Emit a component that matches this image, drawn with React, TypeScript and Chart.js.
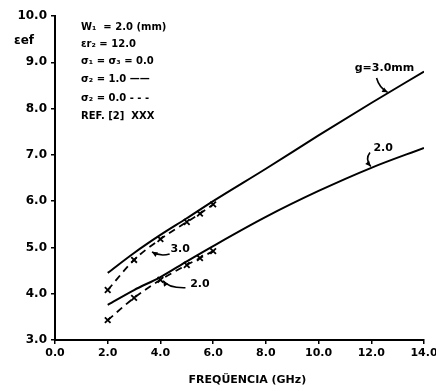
import { useEffect, useRef } from "react";
import { Chart, registerables } from "chart.js";

Chart.register(...registerables);

// Frequency (GHz) samples
const freqSolid = [2, 3, 4, 5, 6, 8, 10, 12, 14];
const freqRef = [2, 3, 4, 5, 5.5, 6];

// σ2 = 1.0 (solid)
const epsG3Sigma1 = [4.45, 4.88, 5.27, 5.63, 6.0, 6.7, 7.42, 8.12, 8.8];
const epsG2Sigma1 = [3.76, 4.08, 4.36, 4.7, 5.03, 5.66, 6.22, 6.72, 7.15];

// σ2 = 0.0 (dashed) with REF. [2] points (x)
const epsG3Sigma0 = [4.08, 4.73, 5.18, 5.55, 5.73, 5.93];
const epsG2Sigma0 = [3.43, 3.91, 4.3, 4.62, 4.77, 4.92];

const xTickLabels = ["0.0", "2.0", "4.0", "6.0", "8.0", "10.0", "12.0", "14.0"];
const yTickLabels = ["3.0", "4.0", "5.0", "6.0", "7.0", "8.0", "9.0", "10.0"];

const xTitle = "FREQÜENCIA (GHz)";
const yTitle = "\u03B5ef";

const infoLines = [
  "W\u2081  = 2.0 (mm)",
  "\u03B5r\u2082 = 12.0",
  "\u03C3\u2081 = \u03C3\u2083 = 0.0",
  "\u03C3\u2082 = 1.0 \u2014\u2014",
  "\u03C3\u2082 = 0.0 - - -",
  "REF. [2]  XXX",
];

const FONT = "'DejaVu Sans', sans-serif";

function drawArrow(
  ctx: CanvasRenderingContext2D,
  tx: number,
  ty: number,
  cx: number,
  cy: number,
  hx: number,
  hy: number
) {
  ctx.beginPath();
  ctx.moveTo(tx, ty);
  ctx.quadraticCurveTo(cx, cy, hx, hy);
  ctx.stroke();
  const ang = Math.atan2(hy - cy, hx - cx);
  const len = 6;
  ctx.beginPath();
  ctx.moveTo(hx, hy);
  ctx.lineTo(hx - len * Math.cos(ang - 0.45), hy - len * Math.sin(ang - 0.45));
  ctx.lineTo(hx - len * Math.cos(ang + 0.45), hy - len * Math.sin(ang + 0.45));
  ctx.closePath();
  ctx.fill();
}

const annotationPlugin = {
  id: "annotations",
  afterDatasetsDraw(chart: any) {
    const ctx: CanvasRenderingContext2D = chart.ctx;
    const xs = chart.scales.x;
    const ys = chart.scales.y;
    const px = (v: number) => xs.getPixelForValue(v);
    const py = (v: number) => ys.getPixelForValue(v);
    const area = chart.chartArea;
    ctx.save();
    ctx.fillStyle = "#000";
    ctx.strokeStyle = "#000";
    ctx.lineWidth = 1.6;

    // info block
    ctx.font = `bold 10px ${FONT}`;
    ctx.textBaseline = "middle";
    ctx.textAlign = "left";
    const lineYs = [27, 44, 61, 79, 98, 116];
    infoLines.forEach((t, i) => {
      ctx.fillText(t, area.left + 26, lineYs[i]);
    });

    // y-axis title
    ctx.font = `bold 12px ${FONT}`;
    ctx.textAlign = "center";
    ctx.fillText(yTitle, 24, 41);

    // x-axis title
    ctx.font = `bold 11px ${FONT}`;
    ctx.fillText(xTitle, px(7.3), area.bottom + 40);

    // curve labels
    ctx.font = `bold 11px ${FONT}`;
    ctx.textAlign = "center";
    ctx.fillText("g=3.0mm", px(12.5), py(8.88));
    drawArrow(ctx, px(12.2), py(8.66), px(12.3), py(8.45), px(12.62), py(8.35));

    ctx.fillText("2.0", px(12.45), py(7.15));
    drawArrow(ctx, px(11.95), py(7.05), px(11.75), py(6.9), px(11.98), py(6.75));

    ctx.fillText("3.0", px(4.75), py(4.97));
    drawArrow(ctx, px(4.35), py(4.86), px(4.0), py(4.8), px(3.68), py(4.9));

    ctx.fillText("2.0", px(5.5), py(4.21));
    drawArrow(ctx, px(4.95), py(4.13), px(4.3), py(4.12), px(4.1), py(4.28));

    ctx.restore();
  },
};

export default function App() {
  const ref = useRef<HTMLCanvasElement | null>(null);

  useEffect(() => {
    if (!ref.current) return;
    const solid = {
      borderColor: "#000",
      borderWidth: 2,
      pointRadius: 0,
      tension: 0.35,
      cubicInterpolationMode: "monotone",
    };
    const dashed = {
      borderColor: "#000",
      borderWidth: 1.8,
      borderDash: [7, 5],
      pointStyle: "crossRot",
      pointRadius: 4,
      pointBorderWidth: 1.8,
      pointBorderColor: "#000",
      tension: 0.35,
      cubicInterpolationMode: "monotone",
    };
    const chart = new Chart(ref.current, {
      type: "line",
      data: {
        datasets: [
          { label: "g=3.0, σ2=1.0", data: freqSolid.map((f, i) => ({ x: f, y: epsG3Sigma1[i] })), ...solid },
          { label: "g=2.0, σ2=1.0", data: freqSolid.map((f, i) => ({ x: f, y: epsG2Sigma1[i] })), ...solid },
          { label: "g=3.0, σ2=0.0", data: freqRef.map((f, i) => ({ x: f, y: epsG3Sigma0[i] })), ...dashed },
          { label: "g=2.0, σ2=0.0", data: freqRef.map((f, i) => ({ x: f, y: epsG2Sigma0[i] })), ...dashed },
        ],
      },
      options: {
        responsive: false,
        animation: false,
        layout: { padding: { top: 16, right: 12, left: 0, bottom: 0 } },
        plugins: {
          legend: { display: false },
          tooltip: { enabled: false },
        },
        scales: {
          x: {
            type: "linear",
            min: 0,
            max: 14,
            ticks: {
              stepSize: 2,
              color: "#000",
              padding: 3,
              font: { family: FONT, size: 11, weight: "bold" },
              callback: (v: any) => xTickLabels[Math.round(Number(v) / 2)] ?? "",
              maxRotation: 0,
            },
            grid: {
              display: true,
              drawOnChartArea: false,
              drawTicks: true,
              tickLength: 4,
              color: "#000",
              lineWidth: 1.5,
            },
            border: { display: true, color: "#000", width: 2 },
            title: { display: false },
            afterFit: (s: any) => {
              s.height = 51;
              s.paddingLeft = 0;
              s.paddingRight = 0;
            },
          },
          y: {
            type: "linear",
            min: 3,
            max: 10,
            ticks: {
              stepSize: 1,
              color: "#000",
              padding: 4,
              font: { family: FONT, size: 12, weight: "bold" },
              callback: (v: any) => yTickLabels[Math.round(Number(v) - 3)] ?? "",
            },
            grid: {
              display: true,
              drawOnChartArea: false,
              drawTicks: true,
              tickLength: 4,
              color: "#000",
              lineWidth: 1.5,
            },
            border: { display: true, color: "#000", width: 2 },
            afterFit: (s: any) => {
              s.width = 55;
              s.paddingTop = 0;
              s.paddingBottom = 0;
            },
          },
        },
      },
      plugins: [annotationPlugin],
    } as any);
    return () => chart.destroy();
  }, []);

  return (
    <div style={{ position: "absolute", left: 0, top: 0, width: 436, height: 391, background: "#fff" }}>
      <canvas ref={ref} width={436} height={391} style={{ width: 436, height: 391 }} />
    </div>
  );
}
